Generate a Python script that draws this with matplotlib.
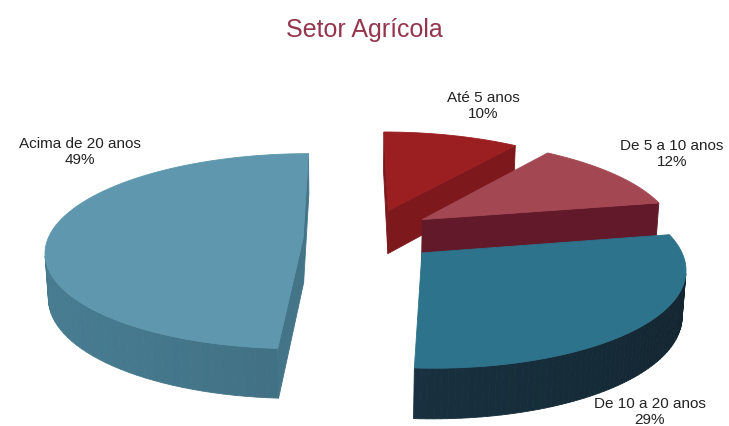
import numpy as np
import matplotlib.pyplot as plt
from matplotlib.colors import to_rgb
from matplotlib.patches import Polygon

# data
labels = ['Até 5 anos', 'De 5 a 10 anos', 'De 10 a 20 anos', 'Acima de 20 anos']
shares = [10, 12, 29, 49]
top_colors = ['#9b1e20', '#a34852', '#2d738c', '#5e97ae']
side_colors = ['#7d191c', '#62192a', '#193241', '#437488']
# how far each slice is pulled out of the pie (x, y in pie radii)
explode_xy = [(0.10, 0.30), (0.235, 0.20), (0.22, -0.15), (-0.24, 0.0)]

W, H = 729, 427
fig = plt.figure(figsize=(W / 100, H / 100), dpi=100)
ax = fig.add_axes([0, 0, 1, 1])
ax.set_xlim(0, W)
ax.set_ylim(H, 0)
ax.axis('off')

# 3d look
elev = np.radians(23.5)
dist = 7.0
cam_x = -0.06
thick = 0.19
start = 90.0
light = np.array([-0.9, -0.44])
light = light / np.linalg.norm(light)

cam = np.array([cam_x, -dist * np.cos(elev), dist * np.sin(elev)])
fwd = np.array([0.0, np.cos(elev), -np.sin(elev)])
right = np.array([1.0, 0.0, 0.0])
up = np.cross(right, fwd)


def project(p):
    v = np.asarray(p) - cam
    zc = v @ fwd
    return np.array([v @ right / zc, v @ up / zc]), zc


def shade(color, n):
    rgb = np.array(to_rgb(color))
    f = 0.88 + 0.18 * (n @ light)
    return tuple(np.clip(rgb * f, 0, 1))


# build faces of every slice in 3d
slices = []
cum = 0.0
for s, col, side, (ex, ey) in zip(shares, top_colors, side_colors, explode_xy):
    hi = start - 360 * cum / 100
    lo = hi - 360 * s / 100
    cum += s
    mid = np.radians((hi + lo) / 2)
    off = np.array([ex, ey, 0.0])
    th = np.radians(np.linspace(lo, hi, 80))
    rim = np.stack([np.cos(th), np.sin(th), np.zeros_like(th)], axis=1) + off
    dz = np.array([0, 0, thick])
    faces = []
    # outer wall
    for k in range(len(th) - 1):
        a = (th[k] + th[k + 1]) / 2
        n = np.array([np.cos(a), np.sin(a)])
        pts = [rim[k], rim[k + 1], rim[k + 1] + dz, rim[k] + dz]
        c = np.mean(pts, axis=0)
        if np.dot(np.append(n, 0), cam - c) > 0:
            faces.append((pts, shade(side, n)))
    # radial cuts
    for a, sgn in ((np.radians(lo), -1), (np.radians(hi), 1)):
        n = np.array([np.cos(a + sgn * np.pi / 2), np.sin(a + sgn * np.pi / 2)])
        e = off + np.array([np.cos(a), np.sin(a), 0])
        pts = [off, e, e + dz, off + dz]
        c = np.mean(pts, axis=0)
        if np.dot(np.append(n, 0), cam - c) > 0:
            faces.append((pts, side))
    # top
    faces.append(([off + dz] + [r + dz for r in rim], col))
    centre = off + 0.5 * np.array([np.cos(mid), np.sin(mid), 0])
    slices.append((project(centre)[1], faces))

# fit projected pie into the plot box
allpts = np.array([project(p)[0] for _, fs in slices for pts, _ in fs for p in pts])
xmin, xmax = allpts[:, 0].min(), allpts[:, 0].max()
ymax = allpts[:, 1].max()
S = (686 - 45) / (xmax - xmin)
x0 = 45 - S * xmin
y0 = 133 + S * ymax

for _, fs in sorted(slices, key=lambda t: -t[0]):
    for pts, c in fs:
        xy = np.array([project(p)[0] for p in pts])
        xy = np.column_stack([x0 + S * xy[:, 0], y0 - S * xy[:, 1]])
        ax.add_patch(Polygon(xy, closed=True, facecolor=c, edgecolor=c, linewidth=0.6))

# texts
ax.text(364, 30, 'Setor Agrícola', ha='center', va='center', fontsize=18,
        color='#94354c', family=['Liberation Sans Narrow', 'Liberation Sans', 'DejaVu Sans'])
label_pos = [(483, 106), (672, 154), (650, 412), (80, 152)]
for lab, s, (x, y) in zip(labels, shares, label_pos):
    ax.text(x, y, f'{lab}\n{s}%', ha='center', va='center', fontsize=11,
            color='#222222', family=['Liberation Sans', 'DejaVu Sans'], linespacing=1.1)

fig.savefig('out.png', dpi=100)
